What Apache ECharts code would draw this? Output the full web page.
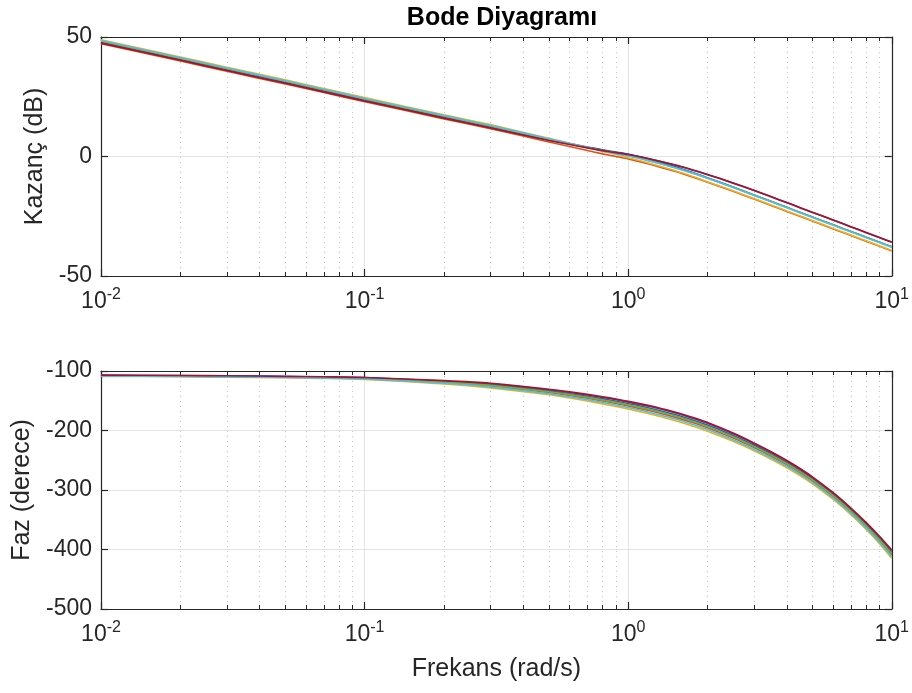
<!DOCTYPE html>
<html>
<head>
<meta charset="utf-8">
<script src="https://cdn.jsdelivr.net/npm/echarts@6/dist/echarts.min.js"></script>
<style>html,body{margin:0;padding:0;background:#fff;}#c{width:912px;height:693px;}</style>
</head>
<body>
<div id="c"></div>
<script>
// Frequencies (rad/s)
const freqs = [0.01, 0.02, 0.03, 0.05, 0.07, 0.1, 0.2, 0.3, 0.5, 0.6, 0.7, 0.8, 0.9, 1, 1.2, 1.5, 1.75, 2, 2.5, 3, 3.5, 4, 4.5, 5, 6, 7, 8, 9, 10];
const seriesNames = ['s1', 's2', 's3', 's4', 's5', 's6', 's7'];
const seriesColors = ['#0072BD', '#D95319', '#EDB120', '#7E2F8E', '#77AC30', '#4DBEEE', '#A2142F'];

// Magnitude (dB)
const magBlue    = [48.0, 40.8, 36.5, 31.2, 27.6, 23.8, 16.6, 12.5, 7.2, 5.45, 4.0, 2.8, 1.85, 1.0, -1.18, -4.19, -6.6, -8.89, -12.77, -16.09, -18.87, -21.28, -23.4, -25.3, -28.59, -31.37, -33.78, -35.9, -37.8];
const magOrange  = [47.15, 39.95, 35.65, 30.35, 26.75, 22.95, 15.75, 11.65, 6.1, 4.15, 2.5, 1.1, 0.0, -1.0, -3.18, -6.19, -8.55, -10.79, -14.57, -17.79, -20.57, -22.98, -25.1, -27.0, -30.29, -33.07, -35.48, -37.6, -39.5];
const magYellow  = [48.85, 41.65, 37.35, 32.05, 28.45, 24.65, 17.45, 13.35, 7.6, 5.55, 3.8, 2.15, 0.8, -0.5, -2.78, -5.89, -8.3, -10.59, -14.37, -17.59, -20.37, -22.78, -24.9, -26.8, -30.09, -32.87, -35.28, -37.4, -39.3];
const magPurple  = [47.7, 40.5, 36.2, 30.9, 27.3, 23.5, 16.3, 12.2, 6.9, 5.2, 3.8, 2.6, 1.65, 0.8, -0.98, -3.59, -5.65, -7.59, -11.14, -14.19, -16.97, -19.38, -21.5, -23.4, -26.69, -29.47, -31.88, -34.0, -35.9];
const magGreen   = [48.25, 41.05, 36.75, 31.45, 27.85, 24.05, 16.85, 12.75, 7.2, 5.35, 3.8, 2.45, 1.4, 0.4, -1.68, -4.59, -6.9, -9.09, -12.87, -16.09, -18.87, -21.28, -23.4, -25.3, -28.59, -31.37, -33.78, -35.9, -37.8];
const magCyan    = [48.5, 41.3, 37.0, 31.7, 28.1, 24.3, 17.1, 13.0, 7.4, 5.45, 3.8, 2.35, 1.2, 0.2, -1.83, -4.69, -6.95, -9.09, -12.97, -16.29, -19.07, -21.48, -23.6, -25.5, -28.79, -31.57, -33.98, -36.1, -38.0];
const magDarkRed = [47.45, 40.25, 35.95, 30.65, 27.05, 23.25, 16.05, 11.95, 6.7, 5.0, 3.6, 2.45, 1.6, 0.8, -0.93, -3.49, -5.55, -7.49, -11.04, -14.09, -16.87, -19.28, -21.4, -23.3, -26.59, -29.37, -31.78, -33.9, -35.8];

// Phase (degrees)
const phBlue    = [-107.6, -108.16, -108.64, -109.7, -110.56, -111.76, -117.9, -122.94, -133.42, -138.12, -142.6, -146.8, -150.88, -154.9, -162.2, -173.22, -182.18, -190.88, -208.4, -224.76, -239.78, -254.06, -267.84, -281.38, -307.96, -333.76, -358.28, -381.88, -405.0];
const phOrange  = [-108.2, -108.82, -109.33, -110.45, -111.37, -112.72, -119.55, -125.28, -136.24, -141.24, -145.9, -150.4, -154.66, -158.8, -166.4, -177.54, -186.56, -195.26, -212.6, -228.72, -243.56, -257.72, -271.38, -284.86, -311.32, -337.12, -361.76, -385.66, -409.2];
const phYellow  = [-109.0, -109.7, -110.25, -111.45, -112.45, -114.0, -121.75, -128.4, -140.0, -145.4, -150.3, -155.2, -159.7, -164.0, -172.0, -183.3, -192.4, -201.1, -218.2, -234.0, -248.6, -262.6, -276.1, -289.5, -315.8, -341.6, -366.4, -390.7, -414.8];
const phPurple  = [-107.2, -107.72, -108.18, -109.2, -110.02, -111.12, -116.8, -121.38, -131.54, -136.04, -140.4, -144.4, -148.36, -152.3, -159.4, -170.34, -179.26, -187.96, -205.6, -222.12, -237.26, -251.62, -265.48, -279.06, -305.72, -331.52, -355.96, -379.36, -402.2];
const phGreen   = [-107.9, -108.49, -108.99, -110.08, -110.97, -112.24, -118.73, -124.11, -134.83, -139.68, -144.25, -148.6, -152.77, -156.85, -164.3, -175.38, -184.37, -193.07, -210.5, -226.74, -241.67, -255.89, -269.61, -283.12, -309.64, -335.44, -360.02, -383.77, -407.1];
const phCyan    = [-108.6, -109.26, -109.79, -110.95, -111.91, -113.36, -120.65, -126.84, -138.12, -143.32, -148.1, -152.8, -157.18, -161.4, -169.2, -180.42, -189.48, -198.18, -215.4, -231.36, -246.08, -260.16, -273.74, -287.18, -313.56, -339.36, -364.08, -388.18, -412.0];
const phDarkRed = [-107.0, -107.5, -107.95, -108.95, -109.75, -110.8, -116.25, -120.6, -130.6, -135.0, -139.3, -143.2, -147.1, -151.0, -158.0, -168.9, -177.8, -186.5, -204.2, -220.8, -236.0, -250.4, -264.3, -277.9, -304.6, -330.4, -354.8, -378.1, -400.8];

const magTicks = [-50, 0, 50];
const phaseTicks = [-500, -400, -300, -200, -100];

const magAll = [magBlue, magOrange, magYellow, magPurple, magGreen, magCyan, magDarkRed];
const phAll = [phBlue, phOrange, phYellow, phPurple, phGreen, phCyan, phDarkRed];

const FONT = '"Liberation Sans", Arial, Helvetica, sans-serif';
const AX = '#262626';
const TICK_FS = 23;
const NAME_FS = 25;

function logLabel(v) {
  const e = Math.round(Math.log10(v));
  return '{b|10}{s|' + e + '}';
}
const richLbl = {
  b: { fontSize: TICK_FS, color: AX, fontFamily: FONT, lineHeight: 26, verticalAlign: 'bottom' },
  s: { fontSize: 16, color: AX, fontFamily: FONT, lineHeight: 26, verticalAlign: 'top', padding: [0, 0, 11, 0] }
};

function xAxisMain(gridIndex, withName) {
  return {
    type: 'log', logBase: 10, gridIndex: gridIndex, min: 0.01, max: 10, interval: 1,
    position: 'bottom',
    axisLine: { show: true, onZero: false, lineStyle: { color: AX, width: 1.2 } },
    axisTick: { show: true, inside: true, length: 7, lineStyle: { color: AX, width: 1.2 } },
    minorTick: { show: true, splitNumber: 9, length: 4, lineStyle: { color: AX, width: 1 } },
    axisLabel: { show: true, formatter: logLabel, rich: richLbl, margin: 11, showMinLabel: true, showMaxLabel: true },
    splitLine: { show: true, lineStyle: { color: '#e3e3e3', width: 1 } },
    minorSplitLine: { show: true, lineStyle: { color: '#c4c4c4', width: 1, type: [1, 4] } },
    name: withName ? 'Frekans (rad/s)' : '',
    nameLocation: 'middle', nameGap: 48,
    nameTextStyle: { fontSize: NAME_FS, color: AX, fontFamily: FONT }
  };
}
function xAxisTop(gridIndex) {
  return {
    type: 'log', logBase: 10, gridIndex: gridIndex, min: 0.01, max: 10, interval: 1,
    position: 'top',
    axisLine: { show: true, onZero: false, lineStyle: { color: AX, width: 1.2 } },
    axisTick: { show: true, inside: true, length: 7, lineStyle: { color: AX, width: 1.2 } },
    minorTick: { show: true, splitNumber: 9, length: 4, lineStyle: { color: AX, width: 1 } },
    axisLabel: { show: false },
    splitLine: { show: false }, minorSplitLine: { show: false }
  };
}
function yAxisLeft(gridIndex, min, max, interval, name, gap) {
  return {
    type: 'value', gridIndex: gridIndex, min: min, max: max, interval: interval, position: 'left',
    axisLine: { show: true, onZero: false, lineStyle: { color: AX, width: 1.2 } },
    axisTick: { show: true, inside: true, length: 7, lineStyle: { color: AX, width: 1.2 } },
    axisLabel: { show: true, fontSize: TICK_FS, color: AX, fontFamily: FONT, margin: 9 },
    splitLine: { show: true, lineStyle: { color: '#e3e3e3', width: 1 } },
    name: name, nameLocation: 'middle', nameGap: gap,
    nameTextStyle: { fontSize: NAME_FS, color: AX, fontFamily: FONT }
  };
}
function yAxisRight(gridIndex, min, max, interval) {
  return {
    type: 'value', gridIndex: gridIndex, min: min, max: max, interval: interval, position: 'right',
    axisLine: { show: true, onZero: false, lineStyle: { color: AX, width: 1.2 } },
    axisTick: { show: true, inside: true, length: 7, lineStyle: { color: AX, width: 1.2 } },
    axisLabel: { show: false }, splitLine: { show: false }
  };
}

const series = [];
for (let i = 0; i < seriesNames.length; i++) {
  series.push({
    name: seriesNames[i], type: 'line', xAxisIndex: 0, yAxisIndex: 0,
    data: freqs.map((f, k) => [f, magAll[i][k]]),
    showSymbol: false, smooth: 0.2,
    lineStyle: { color: seriesColors[i], width: 1.6 }, itemStyle: { color: seriesColors[i] },
    silent: true, z: 3 + i
  });
  series.push({
    name: seriesNames[i] + 'p', type: 'line', xAxisIndex: 2, yAxisIndex: 2,
    data: freqs.map((f, k) => [f, phAll[i][k]]),
    showSymbol: false, smooth: 0.2,
    lineStyle: { color: seriesColors[i], width: 1.6 }, itemStyle: { color: seriesColors[i] },
    silent: true, z: 3 + i
  });
}

const option = {
  animation: false,
  backgroundColor: '#ffffff',
  title: {
    text: 'Bode Diyagramı', left: 497, top: 1, textAlign: 'center',
    textStyle: { fontSize: NAME_FS, fontWeight: 'bold', color: '#000', fontFamily: FONT }
  },
  grid: [
    { left: 101, right: 19, top: 37, height: 239 },
    { left: 101, right: 19, top: 371, height: 238 }
  ],
  xAxis: [xAxisMain(0, false), xAxisTop(0), xAxisMain(1, true), xAxisTop(1)],
  yAxis: [
    yAxisLeft(0, magTicks[0], magTicks[magTicks.length - 1], 50, 'Kazanç (dB)', 51),
    yAxisRight(0, magTicks[0], magTicks[magTicks.length - 1], 50),
    yAxisLeft(1, phaseTicks[0], phaseTicks[phaseTicks.length - 1], 100, 'Faz (derece)', 66),
    yAxisRight(1, phaseTicks[0], phaseTicks[phaseTicks.length - 1], 100)
  ],
  series: series
};
const chart = echarts.init(document.getElementById('c'), null, { renderer: 'canvas' });
chart.setOption(option);
</script>
</body>
</html>
